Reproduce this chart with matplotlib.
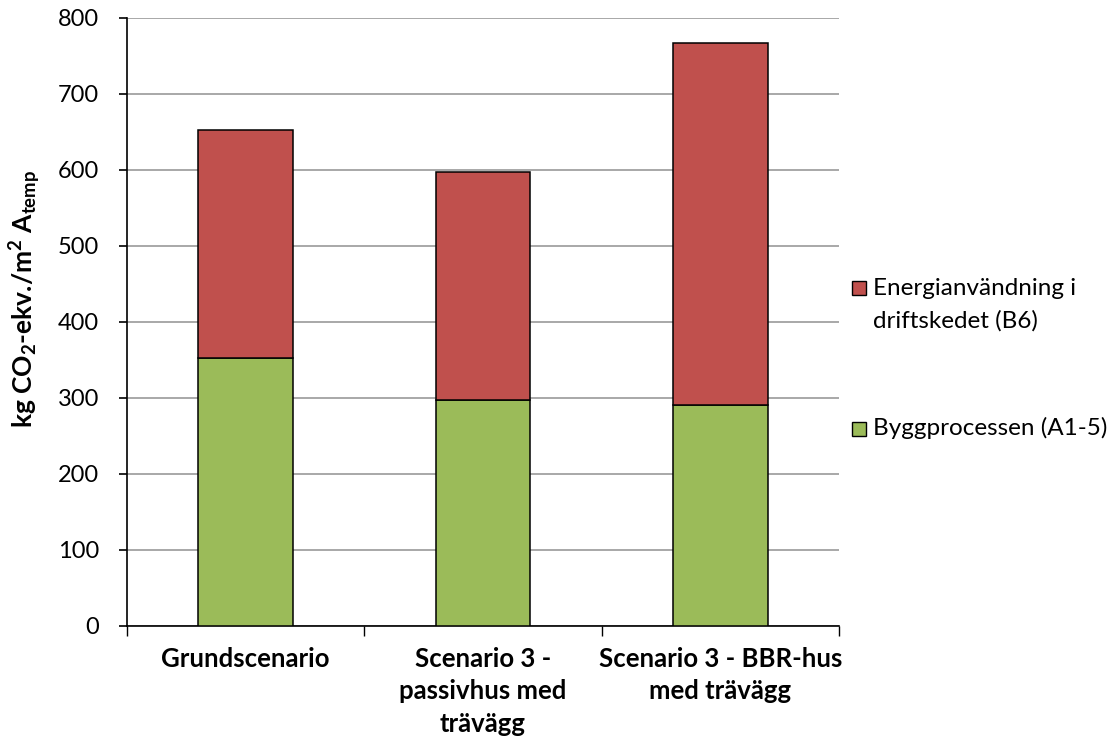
import matplotlib
matplotlib.use("Agg")
import matplotlib.pyplot as plt
from matplotlib.patches import Rectangle

plt.rcParams['font.family'] = ['Lato', 'DejaVu Sans']
plt.rcParams['mathtext.fontset'] = 'custom'
plt.rcParams['mathtext.rm'] = 'Lato:bold'
plt.rcParams['mathtext.it'] = 'Lato:bold'
plt.rcParams['mathtext.bf'] = 'Lato:bold'
plt.rcParams['mathtext.default'] = 'rm'

categories = ["Grundscenario", "Scenario 3 -\npassivhus med\nträvägg", "Scenario 3 - BBR-hus\nmed trävägg"]
bygg = [352, 297, 291]
energi = [300, 300, 476]
series_labels = ["Byggprocessen (A1-5)", "Energianvändning i\ndriftskedet (B6)"]
yticks = [0, 100, 200, 300, 400, 500, 600, 700, 800]

green = "#9BBB59"
red = "#C0504D"

fig = plt.figure(figsize=(11.13, 7.38), dpi=100)
ax = fig.add_axes([127/1113, 1-626/738, (839-127)/1113, (626-18)/738])

x = list(range(len(categories)))
ax.bar(x, bygg, width=0.4, color=green, edgecolor="black", linewidth=1.1, zorder=3)
ax.bar(x, energi, width=0.4, bottom=bygg, color=red, edgecolor="black", linewidth=1.1, zorder=3)

ax.set_xlim(-0.5, len(categories) - 0.5)
ax.set_ylim(0, 800)
ax.set_yticks(yticks)
ax.set_yticklabels([str(v) for v in yticks], fontsize=17)
ax.yaxis.grid(True, color="#9a9a9a", linewidth=1.2, zorder=0)
ax.set_axisbelow(True)

ax.set_xticks([i - 0.5 for i in range(len(categories) + 1)])
ax.set_xticklabels([])
ax.set_xticks(x, minor=True)
ax.set_xticklabels(categories, minor=True, fontsize=18.5, fontweight="bold", linespacing=1.42)
ax.tick_params(axis="x", which="major", length=7, width=1, direction="out")
ax.tick_params(axis="x", which="minor", length=0, pad=15)
ax.tick_params(axis="y", which="major", length=6, width=1.2, direction="out", pad=14)

for s in ["top", "right"]:
    ax.spines[s].set_visible(False)
for s in ["left", "bottom"]:
    ax.spines[s].set_color("black")
    ax.spines[s].set_linewidth(1.2)

ax.set_ylabel(r"kg CO$_2$-ekv./m$^2$ A$_{temp}$", fontsize=19, fontweight="bold")
ax.yaxis.set_label_coords((43 - 127) / 712, (626 - 299) / 608)

# legend (red entry first, green second)
def fx(px):
    return px / 1113
def fy(py):
    return 1 - py / 738

for color, ytop, base, label in [(red, 281, 328, series_labels[1]), (green, 422, 435, series_labels[0])]:
    fig.patches.append(Rectangle((fx(852), fy(ytop + 14)), 14/1113, 14/738,
                                 transform=fig.transFigure, facecolor=color,
                                 edgecolor="black", linewidth=1.0))
    fig.text(fx(873), fy(base), label, fontsize=17.5, va="baseline",
             ha="left", linespacing=1.65)

fig.savefig("out.png", dpi=100)
